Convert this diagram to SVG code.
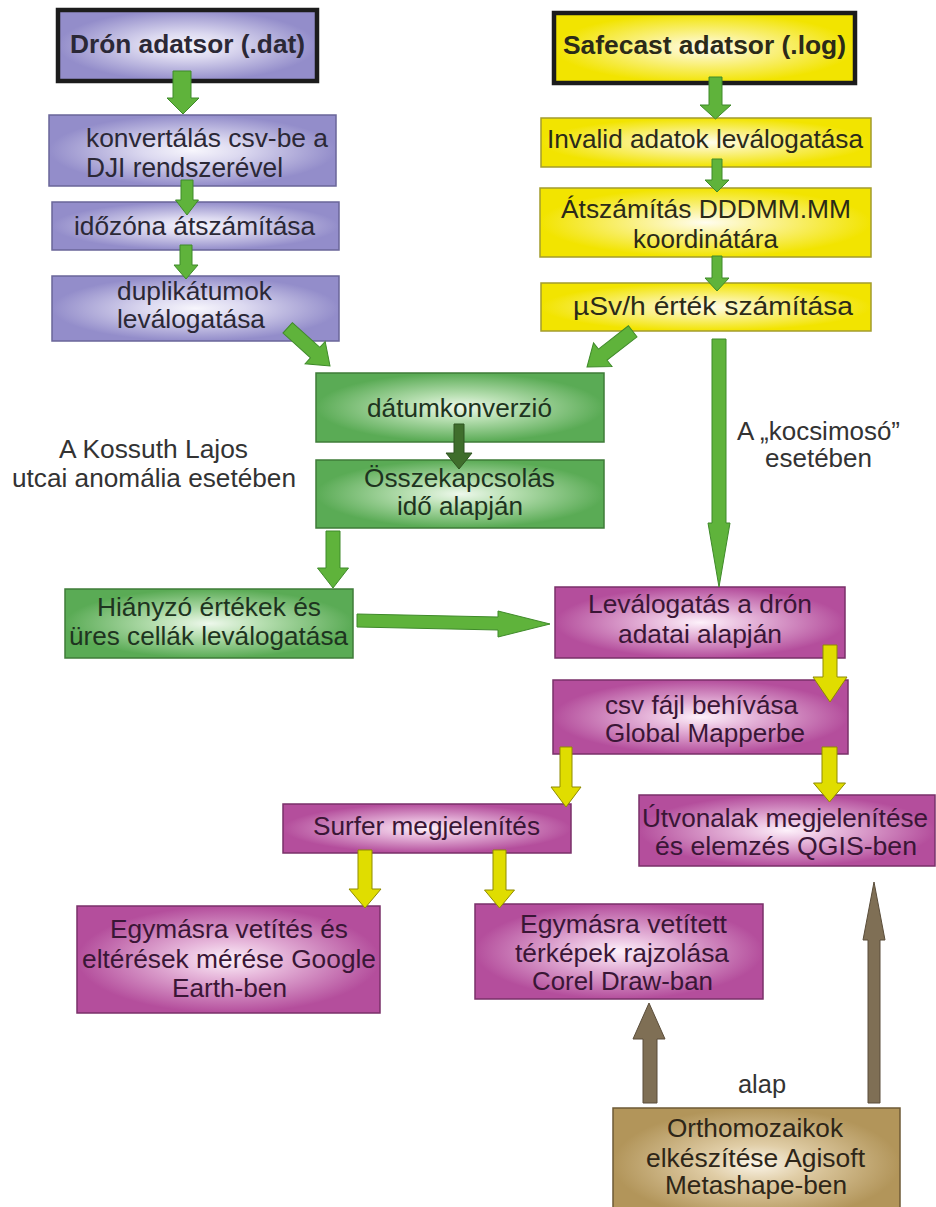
<svg xmlns="http://www.w3.org/2000/svg" width="936" height="1207" viewBox="0 0 936 1207">
<defs>
<radialGradient id="gP"><stop offset="0" stop-color="#f7f6fc"/><stop offset="0.35" stop-color="#dcd9f0"/><stop offset="1" stop-color="#938dca"/></radialGradient>
<radialGradient id="gY"><stop offset="0" stop-color="#fffdf0"/><stop offset="0.35" stop-color="#fbf39a"/><stop offset="1" stop-color="#f2e400"/></radialGradient>
<radialGradient id="gG"><stop offset="0" stop-color="#eef8ec"/><stop offset="0.35" stop-color="#b9e0b3"/><stop offset="1" stop-color="#5aab55"/></radialGradient>
<radialGradient id="gM"><stop offset="0" stop-color="#fdf1fa"/><stop offset="0.35" stop-color="#e6b6da"/><stop offset="1" stop-color="#b44e9c"/></radialGradient>
<radialGradient id="gB"><stop offset="0" stop-color="#faf4e8"/><stop offset="0.35" stop-color="#e0cda6"/><stop offset="1" stop-color="#b2955a"/></radialGradient>
</defs>
<style>
text{font-family:"Liberation Sans",Arial,sans-serif;font-size:25px;}
.b{font-weight:bold;fill:#222;}
.p rect{fill:url(#gP);stroke:#6a6699;stroke-width:1.5;}
.y rect{fill:url(#gY);stroke:#a39c2c;stroke-width:1.5;}
.g rect{fill:url(#gG);stroke:#3f7c39;stroke-width:1.5;}
.m rect{fill:url(#gM);stroke:#7a3069;stroke-width:1.5;}
.br rect{fill:url(#gB);stroke:#6e5a36;stroke-width:1.5;}
rect.t{stroke:#1c1c1c;stroke-width:4.5;}
.p text{fill:#2b2836;}
.y text{fill:#2b2a18;}
.g text{fill:#1e3420;}
.m text{fill:#3a1636;}
.br text{fill:#2e2618;}
.lbl{fill:#333;}
.ga{fill:#5fb33b;stroke:#3f8a2a;stroke-width:1;}
.gd{fill:#3f6e2c;stroke:#2f5420;stroke-width:1;}
.ya{fill:#e0dd00;stroke:#8f8b00;stroke-width:1;}
.ba{fill:#7f6f55;stroke:#5a4d3a;stroke-width:1;}
</style>
<rect width="936" height="1207" fill="#ffffff"/>

<g id="dron" class="p"><rect class="t" x="58" y="10" width="259" height="71"/><text class="b" x="70" y="53" textLength="235" lengthAdjust="spacingAndGlyphs">Drón adatsor (.dat)</text></g>
<g id="konv" class="p"><rect x="49" y="115" width="287" height="71"/><text x="86" y="147" textLength="242" lengthAdjust="spacingAndGlyphs">konvertálás csv-be a</text><text x="86" y="177" textLength="197" lengthAdjust="spacingAndGlyphs" style="font-size:27px">DJI rendszerével</text></g>
<g id="idozona" class="p"><rect x="52" y="202" width="287" height="48"/><text x="74" y="235" textLength="241" lengthAdjust="spacingAndGlyphs">időzóna átszámítása</text></g>
<g id="dupl" class="p"><rect x="52" y="276" width="287" height="65"/><text x="117" y="300" textLength="155" lengthAdjust="spacingAndGlyphs">duplikátumok</text><text x="117" y="328" textLength="148" lengthAdjust="spacingAndGlyphs">leválogatása</text></g>

<g id="safecast" class="y"><rect class="t" x="554" y="13" width="301" height="70"/><text class="b" x="563" y="54" textLength="283" lengthAdjust="spacingAndGlyphs">Safecast adatsor (.log)</text></g>
<g id="invalid" class="y"><rect x="541" y="118" width="330" height="49"/><text x="547" y="148" textLength="316" lengthAdjust="spacingAndGlyphs">Invalid adatok leválogatása</text></g>
<g id="atszamitas" class="y"><rect x="540" y="188" width="331" height="69"/><text x="561" y="218" textLength="290" lengthAdjust="spacingAndGlyphs">Átszámítás DDDMM.MM</text><text x="633" y="248" textLength="145" lengthAdjust="spacingAndGlyphs">koordinátára</text></g>
<g id="usv" class="y"><rect x="541" y="283" width="330" height="48"/><text x="573" y="315" textLength="280" lengthAdjust="spacingAndGlyphs">µSv/h érték számítása</text></g>

<g id="datum" class="g"><rect x="316" y="373" width="288" height="69"/><text x="367" y="417" textLength="185" lengthAdjust="spacingAndGlyphs">dátumkonverzió</text></g>
<g id="osszekapcsolas" class="g"><rect x="316" y="460" width="288" height="68"/><text x="364" y="487" textLength="191" lengthAdjust="spacingAndGlyphs">Összekapcsolás</text><text x="397" y="515" textLength="126" lengthAdjust="spacingAndGlyphs">idő alapján</text></g>
<g id="hianyzo" class="g"><rect x="65" y="589" width="288" height="69"/><text x="97" y="616" textLength="224" lengthAdjust="spacingAndGlyphs">Hiányzó értékek és</text><text x="69" y="645" textLength="279" lengthAdjust="spacingAndGlyphs">üres cellák leválogatása</text></g>

<g id="levalogatas" class="m"><rect x="555" y="587" width="290" height="71"/><text x="588" y="613" textLength="224" lengthAdjust="spacingAndGlyphs">Leválogatás a drón</text><text x="618" y="643" textLength="164" lengthAdjust="spacingAndGlyphs">adatai alapján</text></g>
<g id="csv" class="m"><rect x="553" y="680" width="295" height="74"/><text x="605" y="714" textLength="193" lengthAdjust="spacingAndGlyphs">csv fájl behívása</text><text x="605" y="742" textLength="200" lengthAdjust="spacingAndGlyphs">Global Mapperbe</text></g>
<g id="surfer" class="m"><rect x="283" y="804" width="288" height="49"/><text x="313" y="835" textLength="227" lengthAdjust="spacingAndGlyphs">Surfer megjelenítés</text></g>
<g id="utvonalak" class="m"><rect x="639" y="795" width="296" height="71"/><text x="642" y="827" textLength="286" lengthAdjust="spacingAndGlyphs">Útvonalak megjelenítése</text><text x="655" y="855" textLength="262" lengthAdjust="spacingAndGlyphs">és elemzés QGIS-ben</text></g>
<g id="google" class="m"><rect x="77" y="906" width="303" height="107"/><text x="110" y="938" textLength="238" lengthAdjust="spacingAndGlyphs">Egymásra vetítés és</text><text x="82" y="968" textLength="294" lengthAdjust="spacingAndGlyphs">eltérések mérése Google</text><text x="172" y="997" textLength="115" lengthAdjust="spacingAndGlyphs">Earth-ben</text></g>
<g id="corel" class="m"><rect x="475" y="904" width="288" height="95"/><text x="520" y="933" textLength="207" lengthAdjust="spacingAndGlyphs">Egymásra vetített</text><text x="515" y="962" textLength="214" lengthAdjust="spacingAndGlyphs">térképek rajzolása</text><text x="532" y="990" textLength="181" lengthAdjust="spacingAndGlyphs">Corel Draw-ban</text></g>
<g id="ortho" class="br"><rect x="613" y="1108" width="287" height="112"/><text x="667" y="1137" textLength="176" lengthAdjust="spacingAndGlyphs">Orthomozaikok</text><text x="646" y="1167" textLength="219" lengthAdjust="spacingAndGlyphs">elkészítése Agisoft</text><text x="665" y="1194" textLength="182" lengthAdjust="spacingAndGlyphs">Metashape-ben</text></g>

<g id="labels">
<text class="lbl" x="59" y="458" textLength="189" lengthAdjust="spacingAndGlyphs">A Kossuth Lajos</text>
<text class="lbl" x="12" y="487" textLength="284" lengthAdjust="spacingAndGlyphs">utcai anomália esetében</text>
<text class="lbl" x="737" y="440" textLength="163" lengthAdjust="spacingAndGlyphs">A „kocsimosó”</text>
<text class="lbl" x="765" y="467" textLength="107" lengthAdjust="spacingAndGlyphs">esetében</text>
<text class="lbl" x="738" y="1093" textLength="48" lengthAdjust="spacingAndGlyphs">alap</text>
</g>

<g id="connectors">
<polygon class="ga" points="173,71 191,71 191,98 199,98 183,114 167,98 173,98"/>
<polygon class="ga" points="181,180 193,180 193,200 198.5,200 187,215 175.5,200 181,200"/>
<polygon class="ga" points="180,245 192,245 192,265 198,265 186,279 174,265 180,265"/>
<polygon class="ga" points="709,77 722,77 722,105 731,105 715.5,119 700,105 709,105"/>
<polygon class="ga" points="712,159 722,159 722,180 729,180 717,192 705,180 712,180"/>
<polygon class="ga" points="712,256 722,256 722,278 729,278 717,291 705,278 712,278"/>
<polygon class="ga" points="712,339 726,339 726,523 730,523 719,587 708,523 712,523"/>
<polygon class="ga" points="326,531 340,531 340,568 348.5,568 333,588 317.5,568 326,568"/>
<polygon class="gd" points="454,424 464,424 464,453 472,453 459,469 446,453 454,453"/>
<polygon class="ga" transform="translate(330,366) rotate(42)" points="-57,-7 -20,-7 -20,-15 0,0 -20,15 -20,7 -57,7"/>
<polygon class="ga" transform="translate(587,367) rotate(142)" points="-58,-7 -20,-7 -20,-15 0,0 -20,15 -20,7 -58,7"/>
<polygon class="ga" points="357,614 498,617 498,611 550,624 498,637 498,630 357,627"/>
<polygon class="ya" points="823,645 837,645 837,677 847,677 830,702 813,677 823,677"/>
<polygon class="ya" points="560,747 572,747 572,787 581,787 566,807 551,787 560,787"/>
<polygon class="ya" points="822,747 837,747 837,783 845.5,783 829.5,802 813.5,783 822,783"/>
<polygon class="ya" points="358,850 372,850 372,889 381,889 365,908 349,889 358,889"/>
<polygon class="ya" points="493,850 506,850 506,890 514.5,890 499.5,908 484.5,890 493,890"/>
<polygon class="ba" points="643,1103 657,1103 657,1039 665,1039 649,1003 633,1039 643,1039"/>
<polygon class="ba" points="868,1103 880,1103 880,940 885,940 874,882 863,940 868,940"/>
</g>
</svg>
